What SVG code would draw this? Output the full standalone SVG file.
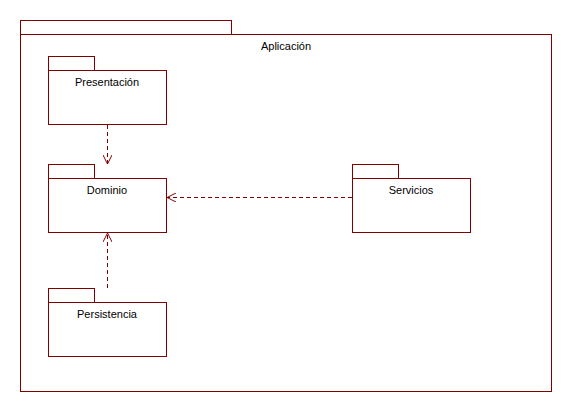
<svg xmlns="http://www.w3.org/2000/svg" width="572" height="412" viewBox="0 0 572 412">
  <defs>
    <style>
      .pkg { fill: #ffffff; stroke: #800000; stroke-width: 1; }
      .lbl { font-family: "Liberation Sans", Arial, sans-serif; font-size: 11px; fill: #000000; text-anchor: middle; }
      .dep { fill: none; stroke: #800000; stroke-width: 1; stroke-dasharray: 4,3; }
    </style>
    <marker id="open" viewBox="0 0 10 10" refX="10" refY="5" markerWidth="9" markerHeight="9" markerUnits="userSpaceOnUse" orient="auto">
      <path d="M0,0 L10,5 L0,10" fill="none" stroke="#800000" stroke-width="1.1"/>
    </marker>
  </defs>
  <rect width="572" height="412" fill="#ffffff"/>

  <g id="aplicacion">
    <rect class="pkg" x="20.5" y="20.5" width="211" height="14"/>
    <rect class="pkg" x="20.5" y="34.5" width="531" height="357"/>
    <text class="lbl" x="286" y="50">Aplicación</text>
  </g>

  <g id="presentacion">
    <rect class="pkg" x="48.5" y="56.5" width="46" height="14"/>
    <rect class="pkg" x="48.5" y="70.5" width="118" height="54"/>
    <text class="lbl" x="107" y="86">Presentación</text>
  </g>

  <g id="dominio">
    <rect class="pkg" x="48.5" y="164.5" width="46" height="14"/>
    <rect class="pkg" x="48.5" y="178.5" width="118" height="54"/>
    <text class="lbl" x="107" y="194">Dominio</text>
  </g>

  <g id="servicios">
    <rect class="pkg" x="352.5" y="164.5" width="46" height="14"/>
    <rect class="pkg" x="352.5" y="178.5" width="118" height="54"/>
    <text class="lbl" x="411" y="194">Servicios</text>
  </g>

  <g id="persistencia">
    <rect class="pkg" x="48.5" y="288.5" width="46" height="14"/>
    <rect class="pkg" x="48.5" y="302.5" width="118" height="54"/>
    <text class="lbl" x="107" y="318">Persistencia</text>
  </g>

  <g id="connectors">
    <line class="dep" x1="107.5" y1="125" x2="107.5" y2="164" marker-end="url(#open)"/>
    <line class="dep" x1="352" y1="197.5" x2="167" y2="197.5" marker-end="url(#open)"/>
    <line class="dep" x1="107.5" y1="288" x2="107.5" y2="233" marker-end="url(#open)"/>
  </g>
</svg>
